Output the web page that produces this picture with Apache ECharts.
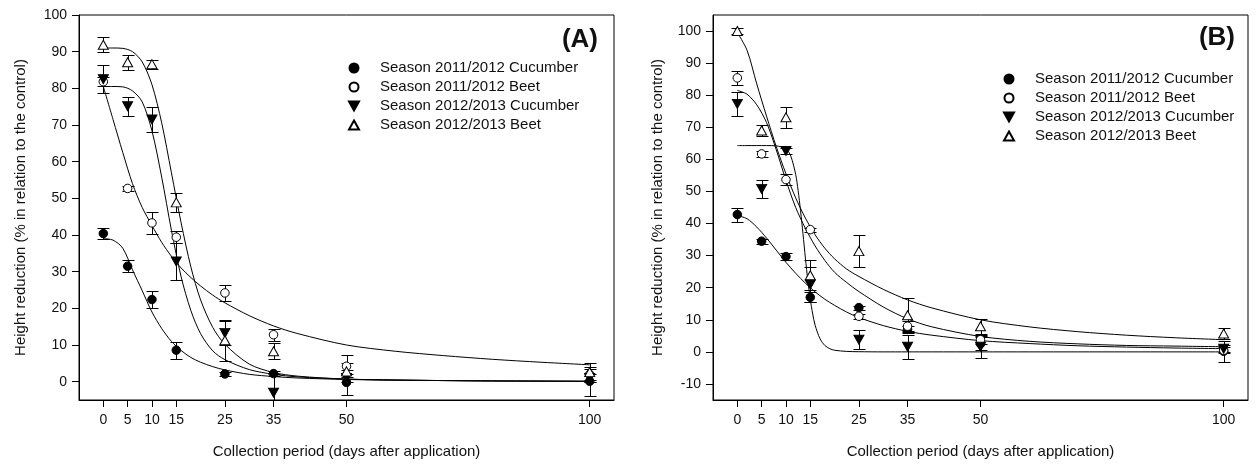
<!DOCTYPE html>
<html><head><meta charset="utf-8">
<script src="https://cdn.jsdelivr.net/npm/echarts@6/dist/echarts.min.js"></script>
<style>html,body{margin:0;padding:0;background:#fff;}#c{width:1258px;height:464px;}</style>
</head><body><div id="c"></div>
<script>
// ---------- DATA ----------
const days = [0, 5, 10, 15, 25, 35, 50, 100];
const seriesNames = ['Season 2011/2012 Cucumber', 'Season 2011/2012 Beet', 'Season 2012/2013 Cucumber', 'Season 2012/2013 Beet'];

// Panel A observed means and errors
const aCuc1112 = [40.4, 31.5, 22.4, 8.6, 2.1, 2.2, -0.2, 0.1];
const aCuc1112Err = [1.4, 1.7, 2.4, 2.3, 0.6, 0.6, 3.5, 4.0];
const aBeet1112 = [81.8, 52.7, 43.3, 39.4, 24.2, 12.8, 4.2, 2.0];
const aBeet1112Err = [1.2, 0.8, 3.0, 1.6, 2.2, 1.7, 3.0, 1.5];
const aCuc1213 = [82.5, 75.1, 71.5, 32.8, 13.3, -3.0, 1.0, 1.0];
const aCuc1213Err = [3.8, 2.6, 3.3, 5.0, 3.2, 5.0, 1.0, 1.0];
const aBeet1213 = [91.9, 87.1, 86.6, 48.9, 11.3, 8.3, 2.8, 2.6];
const aBeet1213Err = [2.0, 2.1, 1.2, 2.5, 5.6, 2.2, 2.2, 2.6];

// Panel B observed means and errors
const bCuc1112 = [42.8, 34.5, 29.7, 17.0, 13.8, 7.0, 2.5, 0.2];
const bCuc1112Err = [2.2, 0.8, 1.0, 1.6, 0.6, 1.0, 2.0, 3.3];
const bBeet1112 = [85.4, 61.7, 53.7, 38.1, 11.1, 8.0, 3.8, 0.5];
const bBeet1112Err = [2.3, 1.0, 1.6, 0.6, 0.8, 1.5, 1.5, 1.0];
const bCuc1213 = [77.3, 50.8, 62.6, 21.0, 3.8, 1.6, 1.6, 1.0];
const bCuc1213Err = [3.8, 2.8, 0.8, 5.6, 2.9, 3.7, 3.5, 1.0];
const bBeet1213 = [100.0, 69.0, 73.1, 23.9, 31.4, 11.4, 8.0, 5.7];
const bBeet1213Err = [1.0, 1.6, 3.3, 4.6, 5.1, 5.3, 2.3, 1.8];

// Fitted curves
const curveX = [0, 2, 4, 6, 8, 10, 12, 14, 16, 18, 20, 22.5, 25, 30, 35, 40, 50, 60, 70, 80, 90, 100];
const aFitCuc1112 = [39.0, 38.6, 36.4, 30.5, 24.8, 19.0, 14.5, 11.0, 8.5, 6.6, 5.3, 4.1, 3.2, 2.0, 1.4, 1.0, 0.6, 0.4, 0.3, 0.2, 0.15, 0.1];
const aFitBeet1112 = [80.5, 71.5, 62.5, 54.0, 47.5, 42.6, 38.0, 34.2, 31.0, 28.4, 26.1, 23.6, 21.5, 18.0, 15.2, 13.1, 10.0, 8.3, 7.1, 6.1, 5.3, 4.6];
const aFitCuc1213 = [80.5, 80.5, 80.4, 79.3, 76.3, 68.4, 55.8, 41.3, 28.6, 19.4, 13.1, 8.4, 6.0, 3.3, 2.0, 1.3, 0.7, 0.45, 0.3, 0.2, 0.15, 0.1];
const aFitBeet1213 = [91.0, 91.0, 90.9, 90.0, 87.2, 81.0, 70.6, 57.0, 43.3, 31.3, 22.3, 14.8, 10.2, 4.8, 2.5, 1.5, 0.7, 0.45, 0.3, 0.2, 0.15, 0.1];

const bFitCuc1112 = [42.5, 41.5, 38.9, 35.5, 31.7, 27.9, 24.5, 21.4, 18.7, 16.4, 14.5, 12.4, 10.7, 8.2, 6.4, 5.2, 3.5, 2.6, 1.9, 1.5, 1.2, 1.0];
const bFitBeet1112 = [81.5, 80.3, 77.0, 71.5, 63.0, 53.5, 45.0, 38.5, 33.0, 28.5, 24.8, 21.6, 18.8, 14.0, 10.3, 7.8, 4.8, 3.3, 2.5, 2.0, 1.8, 1.6];
const bFitBeet1213 = [99.5, 94.0, 83.5, 73.5, 64.0, 55.5, 48.0, 41.7, 36.5, 32.3, 29.0, 25.8, 23.5, 19.5, 16.2, 13.7, 10.0, 7.8, 6.3, 5.2, 4.4, 3.8];
const stepX = [0, 2, 4, 6, 8, 10, 11, 12, 12.5, 13, 13.5, 14, 14.5, 15, 15.5, 16, 17, 18, 19, 20, 22.5, 25, 30, 35, 40, 50, 60, 70, 80, 90, 100];
const bFitCuc1213 = [64.3, 64.3, 64.3, 64.3, 64.2, 63.3, 61.0, 55.3, 50.3, 44.0, 36.8, 29.2, 22.2, 16.4, 11.8, 8.3, 4.1, 2.0, 1.0, 0.5, 0.15, 0.05, 0, 0, 0, 0, 0, 0, 0, 0, 0];

const yTicksA = [0, 10, 20, 30, 40, 50, 60, 70, 80, 90, 100];
const yTicksB = [-10, 0, 10, 20, 30, 40, 50, 60, 70, 80, 90, 100];

// ---------- CHART ----------
const FONT = '"Liberation Sans", Arial, Helvetica, sans-serif';
const TXT = '#111';
const triDown = 'path://M0,0L10,0L5,9Z';
const markerDefs = [
  { symbol: 'circle', size: 8.5, fill: '#000' },
  { symbol: 'circle', size: 8.5, fill: '#fff' },
  { symbol: triDown, size: [10, 9], fill: '#000' },
  { symbol: 'triangle', size: [10, 9], fill: '#fff' }
];

const chart = echarts.init(document.getElementById('c'), null, { renderer: 'canvas' });

function xAxis(gi) {
  return {
    type: 'value', gridIndex: gi, min: -5, max: 105,
    axisLine: { show: true, onZero: false, lineStyle: { color: '#000', width: 1 } },
    axisTick: { show: true, length: 7, customValues: days, lineStyle: { color: '#000' } },
    axisLabel: { customValues: days, fontSize: 14, color: TXT, fontFamily: FONT, margin: 13 },
    splitLine: { show: false },
    name: 'Collection period (days after application)', nameLocation: 'middle', nameGap: 44,
    nameTextStyle: { fontSize: 15, color: TXT, fontFamily: FONT }
  };
}
function yAxis(gi, min, max, ticks, gap) {
  return {
    type: 'value', gridIndex: gi, min: min, max: max,
    axisLine: { show: true, onZero: false, lineStyle: { color: '#000', width: 1 } },
    axisTick: { show: true, length: 7, customValues: ticks, lineStyle: { color: '#000' } },
    axisLabel: { customValues: ticks, fontSize: 14, color: TXT, fontFamily: FONT, margin: 12 },
    splitLine: { show: false },
    name: 'Height reduction (% in relation to the control)', nameLocation: 'middle', nameGap: gap,
    nameTextStyle: { fontSize: 15, color: TXT, fontFamily: FONT }
  };
}

function errItem(params, api) {
  const x = api.value(0), lo = api.value(1), hi = api.value(2);
  const t = api.coord([x, hi]), b = api.coord([x, lo]);
  const cx = Math.round(t[0]) + 0.5;
  const ty = Math.round(t[1]) + 0.5, by = Math.round(b[1]) + 0.5;
  const w = 6;
  const st = { stroke: '#000', lineWidth: 1, fill: null };
  return {
    type: 'group', children: [
      { type: 'line', shape: { x1: cx, y1: ty, x2: cx, y2: by }, style: st },
      { type: 'line', shape: { x1: cx - w, y1: ty, x2: cx + w, y2: ty }, style: st },
      { type: 'line', shape: { x1: cx - w, y1: by, x2: cx + w, y2: by }, style: st }
    ]
  };
}

const series = [];
function addPanel(gi, means, errs, fits) {
  fits.forEach(function (f) {
    series.push({
      type: 'line', name: 'fit' + gi, xAxisIndex: gi, yAxisIndex: gi,
      data: f[0].map(function (x, i) { return [x, f[1][i]]; }),
      smooth: 0.3, showSymbol: false, symbol: 'none',
      lineStyle: { color: '#000', width: 1 }, z: 2, silent: true, clip: true
    });
  });
  means.forEach(function (m, k) {
    series.push({
      type: 'custom', name: 'err' + gi + k, xAxisIndex: gi, yAxisIndex: gi,
      renderItem: errItem, clip: true, z: 3,
      encode: { x: 0, y: [1, 2] },
      data: days.map(function (d, i) { return [d, m[i] - errs[k][i], m[i] + errs[k][i]]; })
    });
  });
  means.forEach(function (m, k) {
    const md = markerDefs[k];
    series.push({
      type: 'scatter', name: seriesNames[k], xAxisIndex: gi, yAxisIndex: gi,
      symbol: md.symbol, symbolSize: md.size, z: 4,
      itemStyle: { color: md.fill, borderColor: '#000', borderWidth: 1, opacity: 1 },
      data: days.map(function (d, i) { return [d, m[i]]; })
    });
  });
}

addPanel(0, [aCuc1112, aBeet1112, aCuc1213, aBeet1213],
  [aCuc1112Err, aBeet1112Err, aCuc1213Err, aBeet1213Err],
  [[curveX, aFitCuc1112], [curveX, aFitBeet1112], [curveX, aFitCuc1213], [curveX, aFitBeet1213]]);
addPanel(1, [bCuc1112, bBeet1112, bCuc1213, bBeet1213],
  [bCuc1112Err, bBeet1112Err, bCuc1213Err, bBeet1213Err],
  [[curveX, bFitCuc1112], [curveX, bFitBeet1112], [stepX, bFitCuc1213], [curveX, bFitBeet1213]]);

function legend(left, top) {
  return {
    left: left, top: top, orient: 'vertical', itemWidth: 10, itemHeight: 9, itemGap: 3,
    selectedMode: false,
    textStyle: { fontSize: 15, color: TXT, fontFamily: FONT, padding: [0, 0, 0, 16], lineHeight: 16 },
    data: seriesNames.map(function (n, k) { return { name: n, icon: markerDefs[k].symbol }; })
  };
}

chart.setOption({
  animation: false,
  backgroundColor: '#fff',
  grid: [
    { left: 79, top: 15, width: 535, height: 385, show: true, borderColor: '#000', borderWidth: 1, backgroundColor: 'transparent' },
    { left: 713, top: 15, width: 535, height: 385, show: true, borderColor: '#000', borderWidth: 1, backgroundColor: 'transparent' }
  ],
  xAxis: [xAxis(0), xAxis(1)],
  yAxis: [yAxis(0, -5, 100, yTicksA, 51), yAxis(1, -15, 105, yTicksB, 48)],
  legend: [legend(343, 55), legend(998, 66)],
  graphic: [
    { type: 'text', x: 598, y: 40, style: { text: '(A)', font: 'bold 26px ' + FONT, fill: '#111', textAlign: 'right', textVerticalAlign: 'middle' } },
    { type: 'text', x: 1235, y: 38, style: { text: '(B)', font: 'bold 26px ' + FONT, fill: '#111', textAlign: 'right', textVerticalAlign: 'middle' } }
  ],
  series: series
});
</script>
</body></html>
